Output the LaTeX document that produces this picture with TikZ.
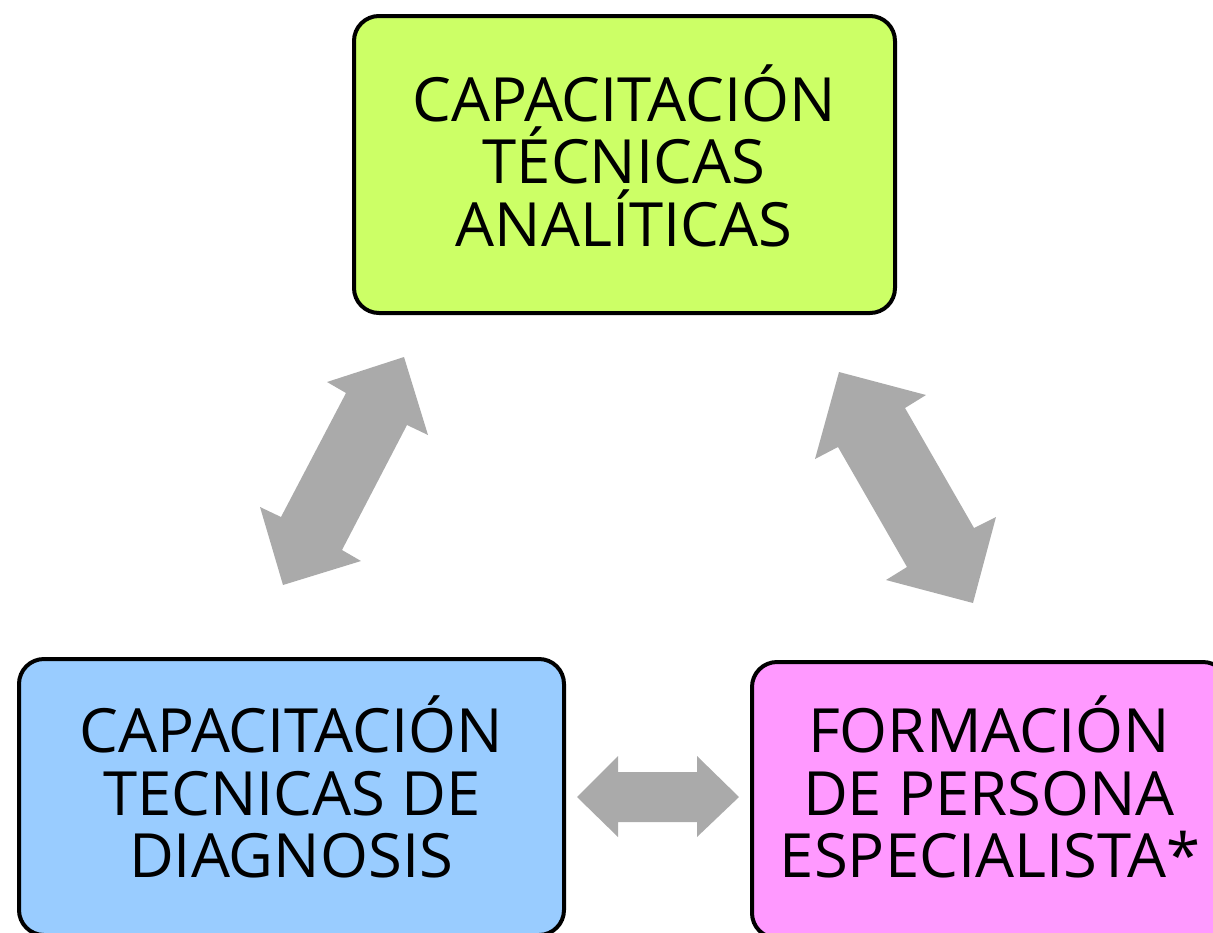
\documentclass[tikz,border=0pt]{standalone}
\usepackage{fontspec}
\setmainfont{Open Sans}[FakeStretch=1.01]
\definecolor{boxgreen}{HTML}{CCFF66}
\definecolor{boxblue}{HTML}{99CCFF}
\definecolor{boxpink}{HTML}{FF99FF}
\definecolor{arrowgray}{HTML}{AAAAAA}
\begin{document}
\begin{tikzpicture}[x=1pt,y=-1pt,
  box/.style={draw=black, line width=4pt, rounded corners=25pt, inner sep=0pt},
  lbl/.style={anchor=base, inner sep=0pt, font=\fontsize{61}{62}\selectfont},
  blockarrow/.style={fill=arrowgray, draw=none}]
\useasboundingbox (0,0) rectangle (1213,932);
% boxes
\node[box, fill=boxgreen, minimum width=541pt, minimum height=297pt] (top) at (624.5,164.5) {};
\node[box, fill=boxblue, minimum width=545pt, minimum height=276pt] (left) at (291.5,797) {};
\node[box, fill=boxpink, minimum width=476pt, minimum height=276pt] (right) at (990,800) {};
% labels
\node[lbl] (t1) at (624,121) {CAPACITACIÓN};
\node[lbl] (t2) at (624,183) {TÉCNICAS};
\node[lbl] (t3) at (624,246) {ANALÍTICAS};
\node[lbl] (l1) at (291,752) {CAPACITACIÓN};
\node[lbl] (l2) at (292,815) {TECNICAS DE};
\node[lbl] (l3) at (291,877) {DIAGNOSIS};
\node[lbl] (r1) at (989,752) {FORMACIÓN};
\node[lbl] (r2) at (989,815) {DE PERSONA};
\node[lbl] (r3) at (990,877) {ESPECIALISTA*};
% block arrows
\fill[blockarrow] (404,357) -- (428,435) -- (407,425) -- (342,550) -- (361,561) -- (283,585)
  -- (260,507) -- (281,517) -- (346,393) -- (327,382) -- cycle;
\fill[blockarrow] (839,372) -- (926,395) -- (905,408) -- (974,528) -- (996,517) -- (973,603)
  -- (886,580) -- (907,567) -- (838,447) -- (815,459) -- cycle;
\fill[blockarrow] (577,797) -- (618,756) -- (618,772) -- (697,772) -- (697,756) -- (739,797)
  -- (697,837) -- (697,822) -- (618,822) -- (618,837) -- cycle;
\end{tikzpicture}
\end{document}
